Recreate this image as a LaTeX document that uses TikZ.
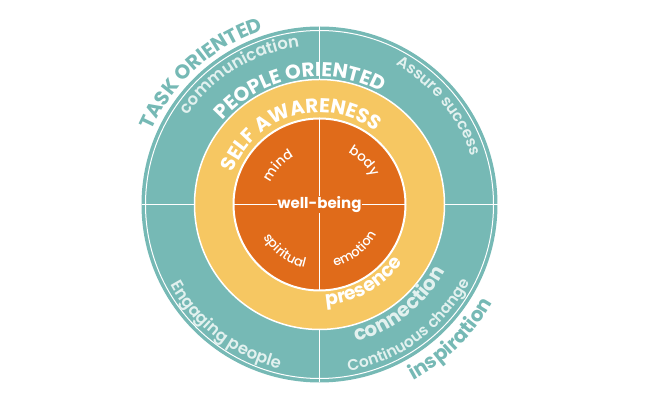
\documentclass[tikz,border=0pt]{standalone}
\usepackage{fontspec}
\setmainfont{Poppins}
\IfFontExistsTF{Poppins Medium}
  {\newfontfamily\medfont{Poppins Medium}}
  {\newfontfamily\medfont{Poppins}[FakeBold=3]}
\IfFontExistsTF{Poppins SemiBold}
  {\newfontfamily\semifont{Poppins SemiBold}}
  {\newfontfamily\semifont{Poppins}[FakeBold=3]}
\usetikzlibrary{decorations.text}

\definecolor{ringteal}{HTML}{76B9B5}
\definecolor{ringyellow}{HTML}{F6C762}
\definecolor{coreorange}{HTML}{E06B1A}
\definecolor{paleteal}{HTML}{E2F1EF}

% text on an arc round (c): mid angle, radius, text
\newcommand{\cwtext}[3]{\path[decorate, decoration={text along path, text align=center, text={#3}}]
  ([shift={(c)}]#1+80:#2) arc[start angle=#1+80, end angle=#1-80, radius=#2];}
\newcommand{\ccwtext}[3]{\path[decorate, decoration={text along path, text align=center, text={#3}}]
  ([shift={(c)}]#1-80:#2) arc[start angle=#1-80, end angle=#1+80, radius=#2];}

\newcommand{\capsfont}[1]{\fontsize{#1}{#1}\selectfont\bfseries}
\newcommand{\palefont}[1]{\semifont\fontsize{#1}{#1}\selectfont}
\newcommand{\plainfont}[1]{\medfont\fontsize{#1}{#1}\selectfont}

\begin{document}
\begin{tikzpicture}[x=1pt, y=1pt, divider/.style={white, line width=1.5pt}]
    \useasboundingbox (0,0) rectangle (651,406);
    \coordinate (c) at (319.5,201.5);

    % Outer ring
    \fill[ringteal] (c) circle[radius=178];
    \draw[white, line width=1pt] (c) circle[radius=174];
    \coordinate (w) at ([shift={(c)}]180:178);
    \coordinate (e) at ([shift={(c)}]0:178);
    \coordinate (n) at ([shift={(c)}]90:178);
    \coordinate (s) at ([shift={(c)}]-90:178);
    \draw[divider] (w) -- (e);
    \draw[divider] (n) -- (s);

    % Middle ring
    \filldraw[fill=ringyellow, draw=white, line width=1.5pt] (c) circle[radius=125];

    % Core
    \filldraw[fill=coreorange, draw=white, line width=2pt] (c) circle[radius=86];
    \coordinate (cw) at ([shift={(c)}]180:86);
    \coordinate (ce) at ([shift={(c)}]0:86);
    \coordinate (cn) at ([shift={(c)}]90:86);
    \coordinate (cs) at ([shift={(c)}]-90:86);
    \draw[divider] (cw) -- (ce);
    \draw[divider] (cn) -- (cs);
    \node[fill=coreorange, inner sep=0.8pt, text=white, font=\capsfont{15}] (wb) at (c) {well-being};

    % Core labels
    \cwtext{137}{54}{|\plainfont{13.5}\color{white}|mind}
    \cwtext{44.5}{59.5}{|\plainfont{13.5}\color{white}|body}
    \ccwtext{-126.6}{65}{|\plainfont{13}\color{white}|spiritual}
    \ccwtext{-51.8}{64}{|\plainfont{13}\color{white}|emotion}

    % Middle ring labels
    \cwtext{106}{92}{|\capsfont{20}\color{white}|SELF AWARENESS}
    \ccwtext{-60.5}{101}{|\capsfont{19}\color{white}|presence}

    % Outer ring labels
    \cwtext{100}{128}{|\capsfont{20}\color{white}|PEOPLE ORIENTED}
    \cwtext{121.5}{159}{|\palefont{16.5}\color{paleteal}|communication}
    \cwtext{39.5}{159}{|\palefont{15.5}\color{paleteal}|Assure success}
    \ccwtext{-51.5}{142}{|\capsfont{20}\color{paleteal}|connection}
    \ccwtext{-53.7}{169}{|\palefont{15.5}\color{paleteal}|Continuous change}
    \ccwtext{-127.7}{169}{|\palefont{16.5}\color{paleteal}|Engaging people}

    % Outside labels
    \cwtext{132}{183}{|\capsfont{20}\color{ringteal}|TASK ORIENTED}
    \ccwtext{-45.7}{199}{|\capsfont{20}\color{ringteal}|inspiration}
\end{tikzpicture}
\end{document}
